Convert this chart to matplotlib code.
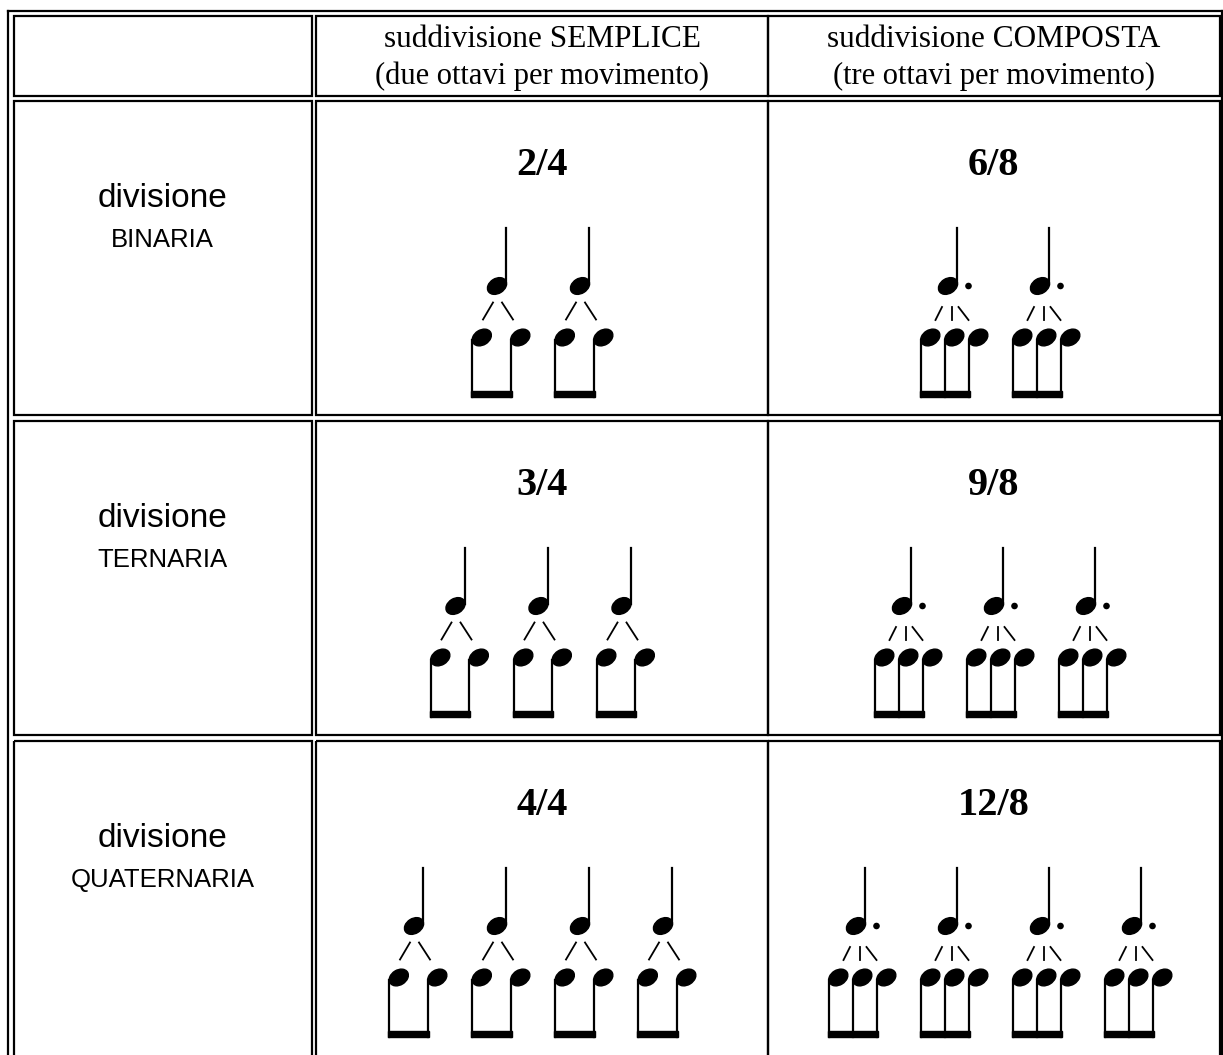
import matplotlib.pyplot as plt
from matplotlib.patches import Ellipse, Rectangle, Circle

# table content
row_words = ["divisione", "divisione", "divisione"]
row_kinds = ["BINARIA", "TERNARIA", "QUATERNARIA"]
head_main = ["suddivisione SEMPLICE", "suddivisione COMPOSTA"]
head_sub = ["(due ottavi per movimento)", "(tre ottavi per movimento)"]
simple_sigs = ["2/4", "3/4", "4/4"]
compound_sigs = ["6/8", "9/8", "12/8"]
beats = [2, 3, 4]
subdiv = [2, 3]   # eighths per beat: simple, compound

W, H = 1223, 1055
fig = plt.figure(figsize=(W / 100, H / 100), dpi=100)
ax = fig.add_axes([0, 0, 1, 1])
ax.set_xlim(0, W)
ax.set_ylim(H, 0)
ax.axis('off')

LW = 1.6
K = 'black'

# outer border
ax.plot([7.5, 7.5], [10.5, H + 5], color=K, lw=LW)
ax.plot([7.5, W], [10.5, 10.5], color=K, lw=LW)
ax.plot([1222, 1222], [10.5, H + 5], color=K, lw=LW)

cols = [(13.5, 311.5), (316, 768), (768, 1219.5)]
rows = [(15.5, 95.5), (100.5, 415), (420.5, 735), (740.5, 1070)]
for (x0, x1) in cols:
    for (y0, y1) in rows:
        ax.add_patch(Rectangle((x0, y0), x1 - x0, y1 - y0, fill=False, ec=K, lw=LW))

# header
for i in range(2):
    cx = (cols[i + 1][0] + cols[i + 1][1]) / 2
    ax.text(cx, 47, head_main[i], ha='center', va='baseline', fontsize=22.5,
            family='Liberation Serif')
    ax.text(cx, 84, head_sub[i], ha='center', va='baseline', fontsize=22,
            family='Liberation Serif')


def note_head(x, y):
    ax.add_patch(Ellipse((x, y), 20.5, 15, angle=-32, color=K))


def group(q, top, n):
    # q: x of the beat note head, top: row top, n: eighths per beat
    hy = top + 185.5
    ey = top + 237
    beam_b = top + 296
    note_head(q, hy)
    ax.plot([q + 9, q + 9], [top + 127.5, hy - 2], color=K, lw=1.6)
    if n == 2:
        stems = [q - 25, q + 13.5]
        ax.plot([q - 14, q - 4], [top + 219, top + 202], color=K, lw=1.3)
        ax.plot([q + 5, q + 16], [top + 202, top + 219], color=K, lw=1.3)
    else:
        ax.add_patch(Circle((q + 20.5, hy), 2.6, color=K))
        stems = [q - 27.5, q - 3.5, q + 20.5]
        ax.plot([q - 12.5, q - 6], [top + 219.5, top + 206.5], color=K, lw=1.3)
        ax.plot([q + 3.5, q + 3.5], [top + 206.5, top + 219.5], color=K, lw=1.3)
        ax.plot([q + 10.5, q + 20.5], [top + 206.5, top + 219.5], color=K, lw=1.3)
    for s in stems:
        note_head(s + 9.8, ey)
        ax.plot([s, s], [ey + 2, beam_b], color=K, lw=1.6)
    ax.add_patch(Rectangle((stems[0] - 1, beam_b - 6), stems[-1] - stems[0] + 2, 6, color=K))


centers = [538.5, 994]
spacing = [83, 92]
for r in range(3):
    top = rows[r + 1][0]
    lx = (cols[0][0] + cols[0][1]) / 2
    ax.text(lx, top + 106.5, row_words[r], ha='center', va='baseline', fontsize=24,
            family='Liberation Sans')
    ax.text(lx, top + 146.5, row_kinds[r], ha='center', va='baseline', fontsize=18.5,
            family='Liberation Sans')
    sigs = [simple_sigs[r], compound_sigs[r]]
    for c in range(2):
        cx = (cols[c + 1][0] + cols[c + 1][1]) / 2
        ax.text(cx, top + 74.5, sigs[c], ha='center', va='baseline', fontsize=29,
                family='Liberation Serif', fontweight='heavy')
        n = beats[r]
        for i in range(n):
            q = centers[c] + spacing[c] * (i - (n - 1) / 2)
            group(q, top, subdiv[c])

fig.savefig('out.png', dpi=100, facecolor='white')
